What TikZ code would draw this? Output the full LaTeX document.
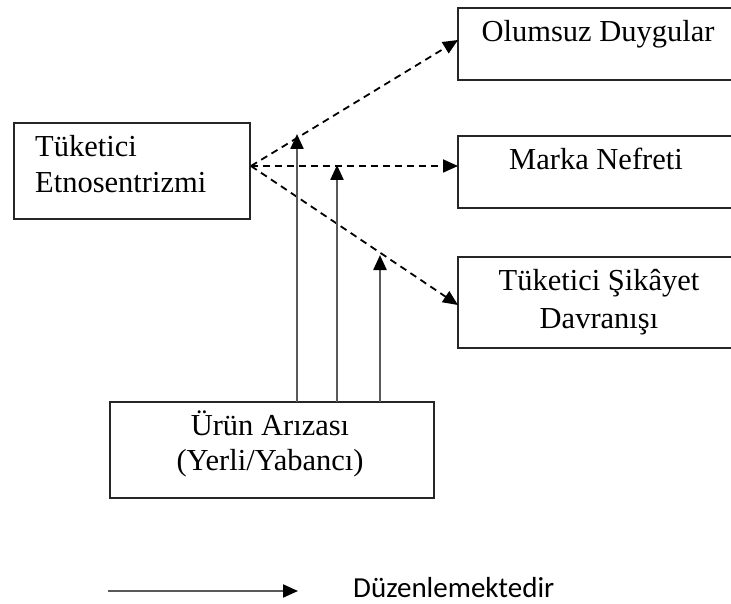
\documentclass[tikz,border=0pt]{standalone}
\usepackage{fontspec}
\setmainfont{Liberation Serif}
\newfontfamily\legendfont{Carlito}
\usetikzlibrary{arrows.meta}
\tikzset{
  box/.style={draw=black!85, line width=1.8pt, rectangle, inner sep=0pt, outer sep=0pt},
  lbl/.style={anchor=base, inner sep=0pt, font=\fontsize{30.5}{35}\selectfont},
  lbll/.style={anchor=base west, inner sep=0pt, font=\fontsize{30.5}{35}\selectfont},
  dasharrow/.style={line width=1.8pt, dash pattern=on 7pt off 5pt, -{Triangle[length=15pt,width=13pt]}},
  solidarrow/.style={draw=black!65, line width=2.3pt, -{Triangle[length=15pt,width=13pt,fill=black,color=black]}},
}
\begin{document}
\begin{tikzpicture}[x=1pt,y=-1pt]
\useasboundingbox (0,0) rectangle (731,604);
\clip (0,0) rectangle (731,604);
% boxes
\node[box, minimum width=236pt, minimum height=96pt] (te) at (132,171) {};
\node[box, minimum width=282pt, minimum height=72pt] (od) at (599,44) {};
\node[box, minimum width=282pt, minimum height=72pt] (mn) at (599,172) {};
\node[box, minimum width=282pt, minimum height=91pt] (ts) at (599,302.5) {};
\node[box, minimum width=324pt, minimum height=96pt] (ua) at (272,450) {};
% texts
\node[lbll] (te1) at (35,157) {Tüketici};
\node[lbll] (te2) at (35,193) {Etnosentrizmi};
\node[lbl] (od1) at (598,42) {Olumsuz Duygular};
\node[lbl] (mn1) at (596,170) {Marka Nefreti};
\node[lbl] (ts1) at (599,290) {Tüketici Şikâyet};
\node[lbl] (ts2) at (599,328) {Davranışı};
\node[lbl] (ua1) at (270,435) {Ürün Arızası};
\node[lbl] (ua2) at (270,470) {(Yerli/Yabancı)};
% dashed connectors
\coordinate (o) at (251,166);
\coordinate (odin) at (458,40);
\coordinate (mnin) at (458,166);
\coordinate (tsin) at (458,305);
\draw[dasharrow] (o) -- (odin);
\draw[dasharrow] (o) -- (mnin);
\draw[dasharrow] (o) -- (tsin);
% moderating arrows
\coordinate (t1) at (297,134);
\coordinate (t2) at (337,165);
\coordinate (t3) at (380,255);
\draw[solidarrow] (t1 |- ua.north) -- (t1);
\draw[solidarrow] (t2 |- ua.north) -- (t2);
\draw[solidarrow] (t3 |- ua.north) -- (t3);
% legend
\coordinate (la) at (108,591);
\coordinate (lb) at (298,591);
\draw[solidarrow, line width=2pt] (la) -- (lb);
\node[anchor=base west, inner sep=0pt, font=\legendfont\fontsize{29}{34}\selectfont] (leg) at (353,597) {Düzenlemektedir};
\end{tikzpicture}
\end{document}
